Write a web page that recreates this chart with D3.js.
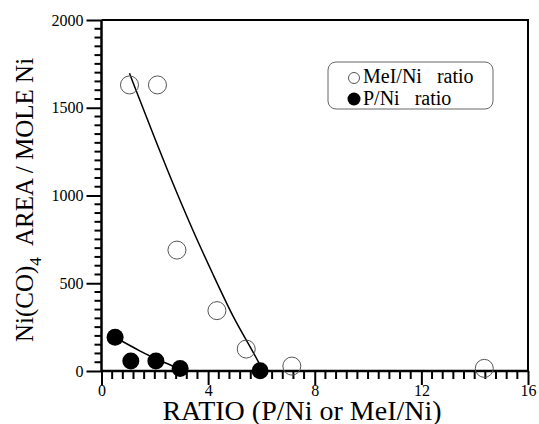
<!DOCTYPE html>
<html>
<head>
<meta charset="utf-8">
<script src="https://cdn.jsdelivr.net/npm/d3@7"></script>
<style>
  body { margin: 0; background: #fff; }
</style>
</head>
<body>
<div class="chart"></div>
<script>
const serif = "Liberation Serif";

// MeI/Ni ratio (open circles)
const meiX = [1.05, 2.1, 2.83, 4.33, 5.43, 7.14, 14.36];
const meiY = [1630, 1630, 689, 344, 125, 28, 15];
// P/Ni ratio (filled circles)
const pX = [0.51, 1.1, 2.04, 2.95, 5.95];
const pY = [192, 57, 57, 14, 2];
// fitted curves
const meiFitX = [1.05, 1.6, 2.45, 3.45, 4.2, 4.95, 5.58, 6.03];
const meiFitY = [1696, 1480, 1150, 790, 545, 300, 140, 10];
const pFitX = [0.51, 1.5, 2.2, 2.95];
const pFitY = [192, 108, 58, 12];

const xTicks = [0, 4, 8, 12, 16];
const yTicks = [0, 500, 1000, 1500, 2000];

const width = 539;
const height = 424;
const margin = { top: 20, right: 11, bottom: 53, left: 101.5 };

const svg = d3
  .select(".chart")
  .append("svg")
  .attr("width", width)
  .attr("height", height)
  .attr("font-family", serif);

const x = d3
  .scaleLinear()
  .domain([0, 16])
  .range([margin.left, width - margin.right]);
const y = d3
  .scaleLinear()
  .domain([0, 2000])
  .range([height - margin.bottom, margin.top]);

// frame (top + right)
svg
  .append("path")
  .attr("d", `M${x(0)},${y(2000)}H${x(16)}V${y(0)}`)
  .attr("fill", "none")
  .attr("stroke", "black")
  .attr("stroke-width", 2);

// minor ticks
const xMinor = d3.range(1, 40).map((i) => i * 0.4).filter((d, i) => (i + 1) % 10 !== 0);
const yMinor = d3.range(0, 2000, 50).filter((d) => d % 500 !== 0);

const xAxis = d3.axisBottom(x).tickValues(xTicks).tickSize(14).tickPadding(0).tickFormat(d3.format("d"));
const yAxis = d3.axisLeft(y).tickValues(yTicks).tickSize(15).tickPadding(3).tickFormat(d3.format("d"));

const xGroup = svg
  .append("g")
  .attr("class", "axis x-axis")
  .attr("transform", `translate(0, ${y(0)})`)
  .call(xAxis);
xGroup
  .selectAll(".minor")
  .data(xMinor)
  .join("line")
  .attr("class", "minor")
  .attr("x1", (d) => x(d))
  .attr("x2", (d) => x(d))
  .attr("y1", 0)
  .attr("y2", 8)
  .attr("stroke", "black")
  .attr("stroke-width", 2);

const yGroup = svg
  .append("g")
  .attr("class", "axis y-axis")
  .attr("transform", `translate(${x(0)}, 0)`)
  .call(yAxis);
yGroup
  .selectAll(".minor")
  .data(yMinor)
  .join("line")
  .attr("class", "minor")
  .attr("x1", 0)
  .attr("x2", -7)
  .attr("y1", (d) => y(d))
  .attr("y2", (d) => y(d))
  .attr("stroke", "black")
  .attr("stroke-width", 2);

svg.selectAll(".axis").attr("font-family", serif);
svg.selectAll(".axis .tick line").attr("stroke-width", 2);
svg
  .selectAll(".axis text")
  .attr("font-size", "16px")
  .attr("font-family", serif)
  .attr("fill", "black");
// plain axis lines, no outer ticks
svg
  .selectAll(".axis .domain")
  .attr("stroke-width", 2.5)
  .attr("stroke", "black")
  .attr("d", function () {
    return d3.select(this.parentNode).classed("x-axis")
      ? `M${x(0)},0H${x(16)}`
      : `M0,${y(0)}V${y(2000)}`;
  });

// axis labels
svg
  .append("text")
  .attr("x", 302)
  .attr("y", 420)
  .attr("text-anchor", "middle")
  .attr("font-size", "28px")
  .attr("font-family", serif)
  .text("RATIO (P/Ni or MeI/Ni)");

const yLabel = svg
  .append("text")
  .attr("transform", "translate(33, 200) rotate(-90)")
  .attr("text-anchor", "middle")
  .attr("font-family", serif)
  .attr("font-size", "25px");
yLabel.append("tspan").text("Ni(CO)");
yLabel.append("tspan").attr("font-size", "17px").attr("dy", 8).text("4");
yLabel.append("tspan").attr("dy", -8).text("\u00a0 AREA / MOLE Ni");

// fitted lines
const line = d3
  .line()
  .x((d) => x(d[0]))
  .y((d) => y(d[1]))
  .curve(d3.curveBasis);

svg
  .append("path")
  .datum(d3.zip(meiFitX, meiFitY))
  .attr("fill", "none")
  .attr("stroke", "black")
  .attr("stroke-width", 1.5)
  .attr("d", line);

svg
  .append("path")
  .datum(d3.zip(pFitX, pFitY))
  .attr("fill", "none")
  .attr("stroke", "black")
  .attr("stroke-width", 1.5)
  .attr("d", line);

// points
svg
  .append("g")
  .selectAll("circle")
  .data(d3.zip(meiX, meiY))
  .join("circle")
  .attr("cx", (d) => x(d[0]))
  .attr("cy", (d) => y(d[1]))
  .attr("r", 9)
  .attr("fill", "none")
  .attr("stroke", "#555")
  .attr("stroke-width", 1);

svg
  .append("g")
  .selectAll("circle")
  .data(d3.zip(pX, pY))
  .join("circle")
  .attr("cx", (d) => x(d[0]))
  .attr("cy", (d) => y(d[1]))
  .attr("r", 8.5)
  .attr("fill", "black");

// legend
const legend = svg.append("g").attr("transform", "translate(328, 62)");
legend
  .append("rect")
  .attr("width", 165)
  .attr("height", 47)
  .attr("rx", 8)
  .attr("fill", "white")
  .attr("stroke", "#666")
  .attr("stroke-width", 1);
legend
  .append("circle")
  .attr("cx", 26)
  .attr("cy", 16)
  .attr("r", 5.5)
  .attr("fill", "none")
  .attr("stroke", "#555");
legend
  .append("circle")
  .attr("cx", 26)
  .attr("cy", 37)
  .attr("r", 6.5)
  .attr("fill", "black");
legend
  .append("text")
  .attr("x", 35)
  .attr("y", 21)
  .attr("font-size", "20px")
  .attr("font-family", serif)
  .text("MeI/Ni\u00a0\u00a0 ratio");
legend
  .append("text")
  .attr("x", 35)
  .attr("y", 43)
  .attr("font-size", "20px")
  .attr("font-family", serif)
  .text("P/Ni\u00a0\u00a0 ratio");
</script>
</body>
</html>
